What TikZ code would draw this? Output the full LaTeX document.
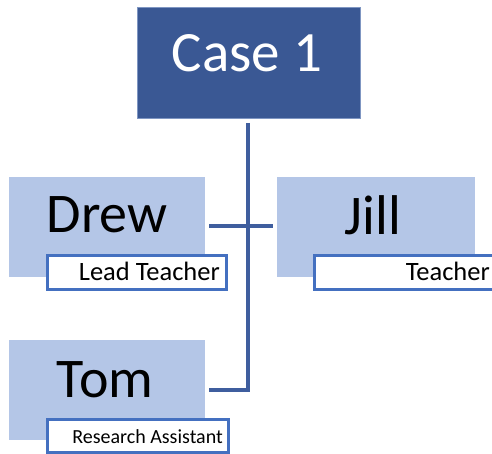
\documentclass[tikz,border=0pt]{standalone}
\usepackage{fontspec}
\setmainfont{Carlito}
\definecolor{caseblue}{HTML}{3A5894}
\definecolor{caseedge}{HTML}{7F96C2}
\definecolor{namefill}{HTML}{B4C6E7}
\definecolor{roleedge}{HTML}{4470C0}
\definecolor{linkblue}{HTML}{3F5E9E}
\tikzset{
  casebox/.style={fill=caseblue, draw=caseedge, line width=0.8pt},
  namebox/.style={fill=namefill},
  rolebox/.style={fill=white, draw=roleedge, line width=3pt},
  link/.style={draw=linkblue, line width=3.6pt},
  nametext/.style={inner sep=0pt, anchor=base, font=\fontsize{56}{56}\selectfont},
  roletext/.style={inner sep=0pt, anchor=base east, font=\fontsize{26.5}{26.5}\selectfont},
}
\begin{document}
\begin{tikzpicture}[x=1pt,y=-1pt]
  \useasboundingbox (0,0) rectangle (492,454);
  \begin{scope}
  \clip (0,0) rectangle (492,454);

  % top-level box
  \path[casebox] (137,7) rectangle (360,118);
  \node[inner sep=0pt, anchor=base, text=white, font=\fontsize{57}{57}\selectfont] (case) at (247,72) {Case 1};
  \coordinate (caseb) at (248,123);

  % member boxes
  \path[namebox] (9,177) rectangle (205,277);
  \node[nametext] (drew) at (107,233) {Drew};
  \path[namebox] (277,177) rectangle (475,277);
  \node[nametext] (jill) at (373,235) {Jill};
  \path[namebox] (9,340) rectangle (205,440);
  \node[nametext] (tom) at (105,397) {Tom};

  % role labels
  \path[rolebox] (47,255) rectangle (226,289);
  \node[roletext] (lead) at (220,280) {Lead Teacher};
  \path[rolebox] (314,255) rectangle (500,289);
  \node[roletext] (teach) at (490,280) {Teacher};
  \path[rolebox] (47,419) rectangle (228,452);
  \node[roletext, font=\fontsize{20}{20}\selectfont] (ra) at (223,443) {Research Assistant};

  % connectors
  \coordinate (drewr) at (209,226);
  \coordinate (jilll) at (273,226);
  \coordinate (tomr) at (209,390);
  \draw[link] (drewr) -- (jilll);
  \draw[link] (caseb) |- (tomr);
  \end{scope}
\end{tikzpicture}
\end{document}
